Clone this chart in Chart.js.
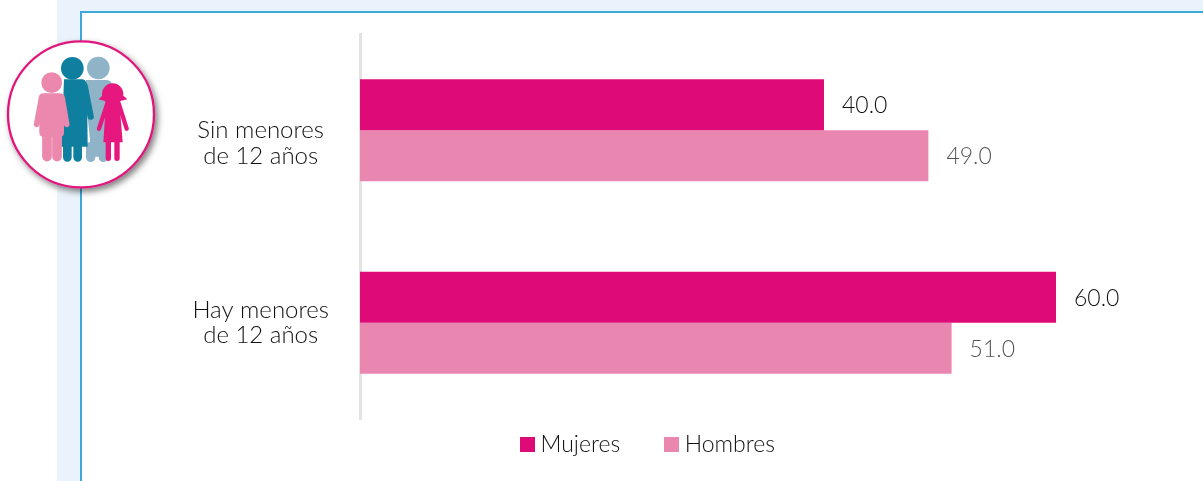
<!DOCTYPE html>
<html><head><meta charset="utf-8">
<script src="https://cdn.jsdelivr.net/npm/chart.js@4"></script>
<style>
html,body{margin:0;padding:0;width:1203px;height:481px;overflow:hidden;background:#fff}
#band{position:absolute;left:57px;top:0;width:1146px;height:481px;background:#eaf3fb}
#panel{position:absolute;left:80px;top:11px;width:1123px;height:470px;background:#fff;border-left:2px solid #3fa9dc;border-top:2px solid #3fa9dc;box-sizing:border-box}
#wrap{position:absolute;left:129px;top:0;width:1074px;height:481px;overflow:hidden}
#icon{position:absolute;left:0;top:0;width:360px;height:200px}
</style></head><body>
<div id="band"></div><div id="panel"></div>
<div id="wrap"><canvas id="c" width="1074" height="502"></canvas></div>
<svg id="icon" viewBox="0 0 1080 600">
<defs><filter id="sh" x="-20%" y="-20%" width="150%" height="150%"><feDropShadow dx="8" dy="10" stdDeviation="9" flood-color="#000" flood-opacity=".5"/></filter></defs>
<circle cx="243" cy="343" r="219" fill="#fff" stroke="#e0197d" stroke-width="7" filter="url(#sh)"/>
<g fill="#8fb3c7" stroke="#8fb3c7" stroke-linecap="round">
<circle cx="295" cy="204" r="34" stroke="none"/>
<path d="M258 240H320Q335 240 338 258L352 345 310 440V470H272V440L258 300Z" stroke="none"/>
<path d="M272 440V472M310 440V472" stroke-width="28" fill="none"/>
</g>
<g fill="#0e7f9e" stroke="#0e7f9e" stroke-linecap="round">
<circle cx="217" cy="205" r="34" stroke="none"/>
<path d="M192 238H245Q258 238 261 254L263 440H184Z" stroke="none"/>
<path d="M254 258L272 350" stroke-width="19" fill="none"/>
<path d="M202 440V472M233 440V472" stroke-width="26" fill="none"/>
</g>
<g fill="#ec87ae" stroke="#ec87ae" stroke-linecap="round">
<circle cx="155" cy="248" r="31" stroke="none"/>
<rect x="118" y="280" width="74" height="130" rx="12" stroke="none"/>
<path d="M125 292L110 373M186 292L200 373" stroke-width="17" fill="none"/>
<path d="M141 400V470M171 400V470" stroke-width="29" fill="none"/>
</g>
<g fill="#e6187f" stroke="#e6187f" stroke-linecap="round">
<circle cx="338" cy="282" r="32" stroke="none"/>
<path d="M296 298Q318 272 338 284Q358 272 382 298Q360 306 338 302Q316 306 296 298Z" stroke="none"/>
<path d="M318 302H358L368 427H310Z" stroke="none"/>
<path d="M322 310L297 386M356 310L380 386" stroke-width="13" fill="none"/>
<path d="M325 425V475M351 425V475" stroke-width="16" fill="none"/>
</g>
</svg>
<script>
const categories = [['', 'Sin menores', 'de 12 años'], ['Hay menores', 'de 12 años']];
const seriesNames = ['Mujeres', 'Hombres'];
const mujeres = [40.0, 60.0];
const hombres = [49.0, 51.0];
const seriesColors = ['#de0a78', '#ea87b0'];
const valueColors = ['#111111', '#555555'];
const FONT = 'Lato';
const SIZE = 23;

function swatch(color){
  const s = document.createElement('canvas'); s.width = 15; s.height = 15;
  const g = s.getContext('2d'); g.fillStyle = color; g.fillRect(0,0,15,15);
  return s;
}
const valueLabels = {
  id:'valueLabels',
  afterLayout(chart){
    chart.legend.top -= 36;
    chart.legend.bottom -= 36;
  },
  afterDatasetsDraw(chart){
    const ctx = chart.ctx;
    ctx.save();
    ctx.font = '300 ' + SIZE + 'px ' + FONT;
    ctx.textBaseline = 'middle';
    ctx.textAlign = 'left';
    chart.data.datasets.forEach((ds,i)=>{
      chart.getDatasetMeta(i).data.forEach((bar,j)=>{
        ctx.fillStyle = valueColors[i];
        ctx.fillText(ds.data[j].toFixed(1), bar.x + 18, bar.y + 1);
      });
    });
    ctx.restore();
  }
};
new Chart(document.getElementById('c'),{
  type:'bar',
  data:{labels:categories,datasets:[
    {label:seriesNames[0],data:mujeres,backgroundColor:seriesColors[0],pointStyle:swatch(seriesColors[0])},
    {label:seriesNames[1],data:hombres,backgroundColor:seriesColors[1],pointStyle:swatch(seriesColors[1])}
  ]},
  options:{
    indexAxis:'y',responsive:false,animation:false,
    categoryPercentage:0.53,barPercentage:1,
    layout:{padding:{top:34,right:31,bottom:0,left:0}},
    scales:{
      x:{display:false,min:0,max:70},
      y:{
        grid:{display:false,drawTicks:false},
        border:{color:'#e3e3e3',width:3},
        afterFit(s){s.width=231;s.paddingTop=0;s.paddingBottom=0;},
        ticks:{color:'#111111',font:{family:FONT,size:24,weight:300,lineHeight:1.08},crossAlign:'center',padding:31}
      }
    },
    plugins:{
      tooltip:{enabled:false},
      legend:{
        position:'bottom',
        labels:{
          color:'#111111',font:{family:FONT,size:SIZE,weight:300},
          usePointStyle:true,pointStyleWidth:3,boxHeight:15,padding:50,
          generateLabels(chart){
            return chart.data.datasets.map((d,i)=>({text:d.label,pointStyle:d.pointStyle,fontColor:'#111111',lineWidth:0,strokeStyle:'transparent',fillStyle:d.backgroundColor,datasetIndex:i}));
          }
        }
      }
    }
  },
  plugins:[valueLabels]
});
</script>
</body></html>
